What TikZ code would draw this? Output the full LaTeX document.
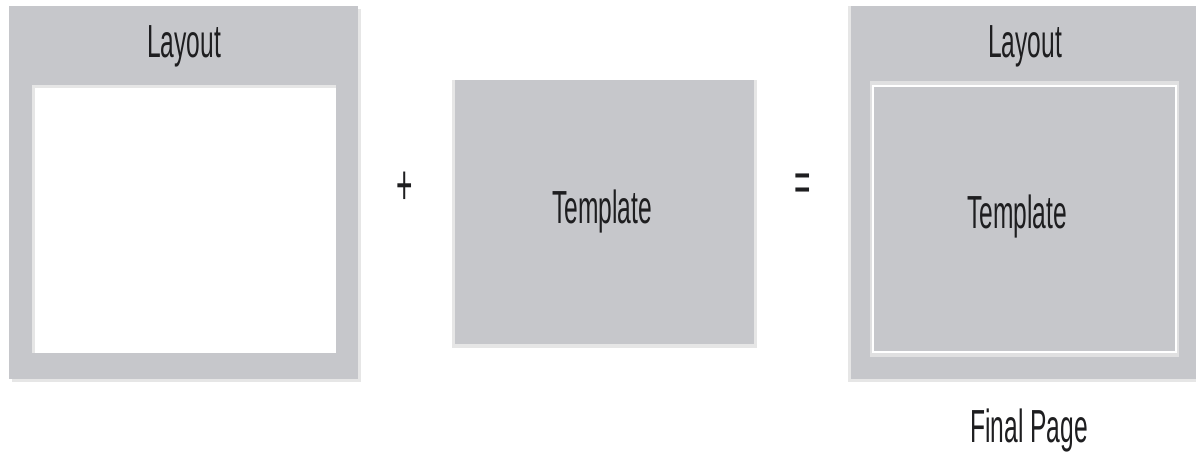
\documentclass[tikz,border=0pt]{standalone}
\usepackage{fontspec}
\setmainfont{Liberation Sans}
\usetikzlibrary{positioning}
\definecolor{boxgray}{RGB}{198,199,203}
\definecolor{edgegray}{RGB}{230,230,230}
\definecolor{inkgray}{RGB}{30,30,32}

\begin{document}
\begin{tikzpicture}[
    x=0.025cm, y=-0.025cm,
    panel/.style={fill=boxgray},
    shade/.style={fill=edgegray},
    caption/.style={font=\fontsize{33}{36}\selectfont, text=inkgray, xscale=0.53, inner sep=0pt, anchor=base},
    sign/.style={font=\fontsize{40}{42}\selectfont, text=inkgray, xscale=0.5, inner sep=0pt}
]
    \useasboundingbox (0,0) rectangle (1196,452);

    % Left panel: layout with empty content area
    \fill[shade] (12,9) rectangle (361,382);
    \fill[panel] (9,6) rectangle (358,379);
    \fill[shade] (32,85) rectangle (336,353);
    \fill[white] (35,88) rectangle (336,353);
    \node[caption] (layoutA) at (184,58) {Layout};

    % Operator between the panels
    \node[sign] (plus) at (405,188) {+};

    % Middle panel: template
    \fill[shade] (452,80) rectangle (757,348);
    \fill[panel] (455,80) rectangle (754,344);
    \node[caption] (templateA) at (602,224) {Template};

    \node[sign] (equals) at (803,188) {=};

    % Right panel: layout with template inserted
    \fill[shade] (848,6) rectangle (1196,382);
    \fill[panel] (851,6) rectangle (1196,379);
    \fill[edgegray!80!boxgray] (870,81) rectangle (1179,357);
    \draw[white, line width=1.5pt, fill=boxgray] (873,86) rectangle (1176,352);
    \node[caption] (layoutB) at (1025,58) {Layout};
    \node[caption] (templateB) at (1017,229) {Template};

    % Result label
    \node[caption] (final) at (1029,442) {Final Page};
\end{tikzpicture}
\end{document}
